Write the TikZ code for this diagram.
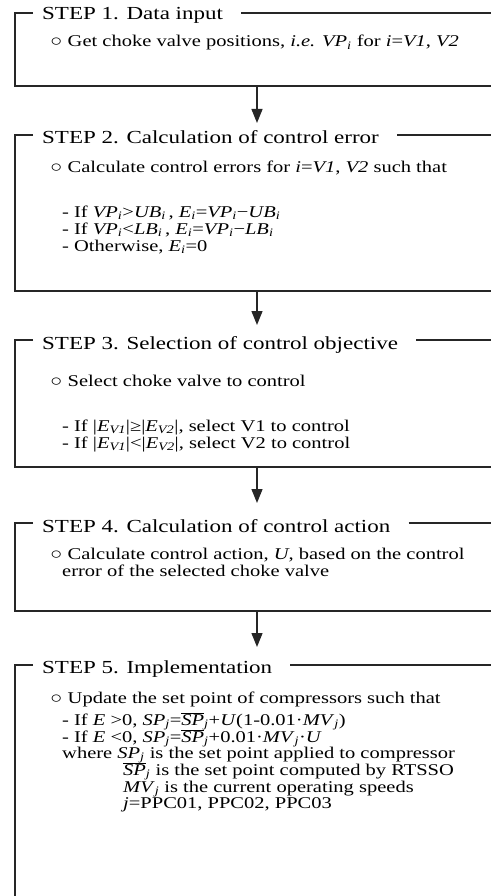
\documentclass[tikz,border=0pt]{standalone}
\usepackage{fontspec}
\setmainfont[FakeStretch=1.25]{Liberation Serif}
\usetikzlibrary{arrows.meta}
\newcommand{\sub}[1]{\textsubscript{\textit{#1}}}
\newcommand{\spbar}{$\overline{\mbox{\textit{SP}}}$}

\begin{document}
\begin{tikzpicture}[x=1pt,y=-1pt,
    title/.style={anchor=base west,inner sep=0pt,font=\fontsize{18.4}{18.4}\selectfont},
    txt/.style={anchor=base west,inner sep=0pt,font=\fontsize{16.4}{16.4}\selectfont},
    frame/.style={line width=1.3pt,black!85},
    flow/.style={frame,-{Triangle[width=11pt,length=14pt]}}]
\useasboundingbox (0,0) rectangle (491,896);
% step 1
\path
    (42,20) node [title] (s1) {STEP 1. Data input}
    +(8,27) node [txt] (s1a) {○ Get choke valve positions, \textit{i.e.} \textit{VP}\sub{i} for \textit{i}=\textit{V1}, \textit{V2}};
\coordinate (b1) at (15,13);
\draw [frame] ([xshift=-9pt]s1.west |- b1) -- (b1) |- (491,86);
\draw [frame] ([xshift=18pt]s1.east |- b1) -- (491,13);
% step 2
\path
    (42,144) node [title] (s2) {STEP 2. Calculation of control error}
    +(8,29) node [txt] (s2a) {○ Calculate control errors for \textit{i}=\textit{V1}, \textit{V2} such that}
    +(20,73) node [txt] (s2b) {- If \textit{VP}\sub{i}>\textit{UB}\sub{i}\,, \textit{E}\sub{i}=\textit{VP}\sub{i}−\textit{UB}\sub{i}}
    +(20,90) node [txt] (s2c) {- If \textit{VP}\sub{i}<\textit{LB}\sub{i}\,, \textit{E}\sub{i}=\textit{VP}\sub{i}−\textit{LB}\sub{i}}
    +(20,107) node [txt] (s2d) {- Otherwise, \textit{E}\sub{i}=0};
\coordinate (b2) at (15,135);
\draw [frame] ([xshift=-9pt]s2.west |- b2) -- (b2) |- (491,291);
\draw [frame] ([xshift=18pt]s2.east |- b2) -- (491,135);
% step 3
\path
    (42,349) node [title] (s3) {STEP 3. Selection of control objective}
    +(8,37) node [txt] (s3a) {○ Select choke valve to control}
    +(20,82) node [txt] (s3b) {- If |\textit{E}\sub{V1}|≥|\textit{E}\sub{V2}|, select V1 to control}
    +(20,99) node [txt] (s3c) {- If |\textit{E}\sub{V1}|<|\textit{E}\sub{V2}|, select V2 to control};
\coordinate (b3) at (15,340);
\draw [frame] ([xshift=-9pt]s3.west |- b3) -- (b3) |- (491,467);
\draw [frame] ([xshift=18pt]s3.east |- b3) -- (491,340);
% step 4
\path
    (42,532) node [title] (s4) {STEP 4. Calculation of control action}
    +(8,27) node [txt] (s4a) {○ Calculate control action, \textit{U}, based on the control}
    +(20,44) node [txt] (s4b) {error of the selected choke valve};
\coordinate (b4) at (15,523);
\draw [frame] ([xshift=-9pt]s4.west |- b4) -- (b4) |- (491,611);
\draw [frame] ([xshift=18pt]s4.east |- b4) -- (491,523);
% step 5
\path
    (42,673) node [title] (s5) {STEP 5. Implementation}
    +(8,30) node [txt] (s5a) {○ Update the set point of compressors such that}
    +(20,52) node [txt] (s5b) {- If \textit{E} >0, \textit{SP}\sub{j}=\spbar\sub{j}+\textit{U}(1-0.01·\textit{MV}\sub{j})}
    +(20,69) node [txt] (s5c) {- If \textit{E} <0, \textit{SP}\sub{j}=\spbar\sub{j}+0.01·\textit{MV}\sub{j}·\textit{U}}
    +(20,85) node [txt] (s5d) {where \textit{SP}\sub{j} is the set point applied to compressor}
    +(81,102) node [txt] (s5e) {\spbar\sub{j} is the set point computed by RTSSO}
    +(81,119) node [txt] (s5f) {\textit{MV}\sub{j} is the current operating speeds}
    +(81,135) node [txt] (s5g) {\textit{j}=PPC01, PPC02, PPC03};
\coordinate (b5) at (15,665);
\draw [frame] ([xshift=-9pt]s5.west |- b5) -- (b5) -- (15,896);
\draw [frame] ([xshift=18pt]s5.east |- b5) -- (491,665);
% arrows
\coordinate (o1) at (257,86);  \coordinate (i2) at (257,123);
\coordinate (o2) at (257,291); \coordinate (i3) at (257,325);
\coordinate (o3) at (257,467); \coordinate (i4) at (257,503);
\coordinate (o4) at (257,611); \coordinate (i5) at (257,647);
\draw [flow] (o1) -- (i2);
\draw [flow] (o2) -- (i3);
\draw [flow] (o3) -- (i4);
\draw [flow] (o4) -- (i5);
\end{tikzpicture}
\end{document}
